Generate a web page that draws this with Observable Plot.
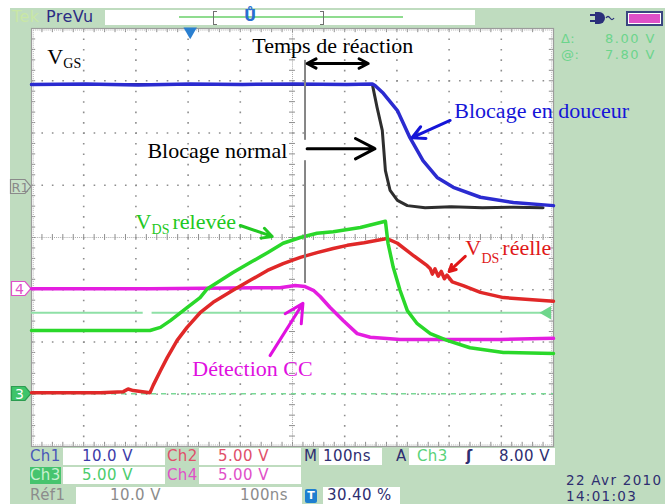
<!DOCTYPE html>
<html><head><meta charset="utf-8">
<script src="https://cdn.jsdelivr.net/npm/d3@7"></script>
<script src="https://cdn.jsdelivr.net/npm/@observablehq/plot@0.6"></script>
<style>
html,body{margin:0;padding:0;background:#fff;}
#scope{position:relative;width:665px;height:504px;overflow:hidden;background:#fff;font-family:"DejaVu Sans",sans-serif;}
.bg{position:absolute;left:10px;top:8px;right:0;bottom:0;background:#bfdcbf;}
.abs{position:absolute;}
.t{position:absolute;white-space:nowrap;font-size:15px;line-height:17px;letter-spacing:0.4px;}
.box{position:absolute;background:#fff;height:17px;}
#chart{position:absolute;left:0;top:0;}
</style></head><body>
<div id="scope">
<div class="bg"></div>
<!-- top bar -->
<div class="t" style="left:12px;top:8px;font-size:16px;color:#c9e7a6">Tek</div>
<div class="t" style="left:46px;top:8px;font-size:16px;color:#2c2c84">PreVu</div>
<div class="box" style="left:105px;top:10px;width:370px;height:15px"></div>
<div class="abs" style="left:179px;top:16px;width:224px;height:2px;background:#8fdc8f"></div>
<div class="abs" style="left:213px;top:11px;width:3px;height:12px;border:1.5px solid #707070;border-right:none"></div>
<div class="abs" style="left:320px;top:11px;width:3px;height:12px;border:1.5px solid #707070;border-left:none"></div>
<div class="t" style="left:244px;top:8px;font-size:15px;font-weight:bold;color:#2a6fd0">Ů</div>
<svg class="abs" style="left:589px;top:11px" width="30" height="14"><path d="M1 4h5M1 10h5" stroke="#2a2f7a" stroke-width="2"/><path d="M6 1h4a6 6 0 0 1 0 12h-4z" fill="#2a2f7a"/><path d="M17 7q2 -3 4 0t4 0" stroke="#2a2f7a" fill="none" stroke-width="1.3"/></svg>
<div class="abs" style="left:626px;top:11px;width:33px;height:11px;border:2px solid #3a4680;background:#e050c8;box-shadow:inset 0 0 0 1px #fff"></div>
<!-- right panel -->
<div class="t" style="left:561px;top:31px;font-size:13px;line-height:15px;color:#6cd48c">Δ:</div>
<div class="t" style="left:594px;top:31px;font-size:13px;line-height:15px;width:62px;text-align:right;color:#6cd48c;letter-spacing:1.5px">8.00 V</div>
<div class="t" style="left:561px;top:47px;font-size:13px;line-height:15px;color:#6cd48c">@:</div>
<div class="t" style="left:594px;top:47px;font-size:13px;line-height:15px;width:62px;text-align:right;color:#6cd48c;letter-spacing:1.5px">7.80 V</div>
<!-- left markers -->
<svg class="abs" style="left:9px;top:178px" width="24" height="17"><path d="M1.5 1.5H16L22 8.5L16 15.5H1.5Z" fill="#c8e2c8" stroke="#8a8a8a" stroke-width="1.2"/><text x="2.5" y="13.5" font-family="DejaVu Sans" font-size="13" fill="#8a8a8a">R1</text></svg>
<svg class="abs" style="left:10px;top:280px" width="23" height="17"><path d="M1.5 1.5H15L21 8.5L15 15.5H1.5Z" fill="#ffffff" stroke="#e050c8" stroke-width="1.2"/><text x="5" y="14" font-family="DejaVu Sans" font-size="14" fill="#e050c8">4</text></svg>
<svg class="abs" style="left:10px;top:385px" width="23" height="17"><path d="M1.5 1.5H15L21 8.5L15 15.5H1.5Z" fill="#3ec46a" stroke="#2c9c50" stroke-width="1.2"/><text x="5" y="14" font-family="DejaVu Sans" font-size="14" fill="#ffffff">3</text></svg>
<!-- bottom row 1 -->
<div class="t" style="left:30px;top:448px;color:#4a58b8">Ch1</div>
<div class="box" style="left:63px;top:448px;width:102px"></div>
<div class="t" style="left:82px;top:448px;color:#3c3ca8">10.0 V</div>
<div class="t" style="left:167px;top:448px;color:#e0506a">Ch2</div>
<div class="box" style="left:199px;top:448px;width:102px"></div>
<div class="t" style="left:218px;top:448px;color:#e0506a">5.00 V</div>
<div class="t" style="left:304px;top:448px;color:#2e2e70">M</div>
<div class="box" style="left:319px;top:448px;width:63px"></div>
<div class="t" style="left:323px;top:448px;color:#2e2e70">100ns</div>
<div class="t" style="left:396px;top:448px;color:#2e2e70">A</div>
<div class="box" style="left:409px;top:448px;width:146px"></div>
<div class="t" style="left:417px;top:448px;color:#5ad27a">Ch3</div>
<div class="t" style="left:466px;top:448px;color:#2e2e70;font-weight:bold">ʃ</div>
<div class="t" style="left:499px;top:448px;color:#2e2e70">8.00 V</div>
<!-- bottom row 2 -->
<div class="abs" style="left:30px;top:467px;width:31px;height:17px;background:#46c46e"></div>
<div class="t" style="left:30px;top:467px;color:#c8f0d0">Ch3</div>
<div class="box" style="left:63px;top:467px;width:102px"></div>
<div class="t" style="left:82px;top:467px;color:#4ccc6c">5.00 V</div>
<div class="t" style="left:167px;top:467px;color:#e050c8">Ch4</div>
<div class="box" style="left:199px;top:467px;width:102px"></div>
<div class="t" style="left:218px;top:467px;color:#e050c8">5.00 V</div>
<!-- bottom row 3 -->
<div class="t" style="left:30px;top:487px;color:#8c8c8c">Réf1</div>
<div class="box" style="left:76px;top:487px;width:226px"></div>
<div class="t" style="left:110px;top:487px;color:#8c8c8c">10.0 V</div>
<div class="t" style="left:240px;top:487px;color:#8c8c8c">100ns</div>
<div class="abs" style="left:305px;top:489px;width:12px;height:14px;background:#1e7fd0;border-radius:2px;color:#fff;font:bold 11px/14px 'DejaVu Sans';text-align:center">T</div>
<div class="box" style="left:323px;top:487px;width:77px"></div>
<div class="t" style="left:327px;top:487px;color:#2e2e70">30.40 %</div>
<div class="t" style="left:566px;top:473px;font-size:13.5px;line-height:15px;color:#2e2e70;letter-spacing:1.3px">22 Avr 2010</div>
<div class="t" style="left:566px;top:489px;font-size:13.5px;line-height:15px;color:#2e2e70;letter-spacing:1.3px">14:01:03</div>
<div id="chart"></div>
</div>
<script>
// ---------- data (time in ns from trigger, amplitude in screen divisions) ----------
const ch1T = [-304, -200, -100, 0, 100, 200, 300, 349, 354, 370, 397, 421, 446, 473, 504, 556, 619, 696];
const ch1V = [2.93, 2.94, 2.92, 2.94, 2.93, 2.94, 2.93, 2.94, 2.91, 2.76, 2.43, 1.91, 1.47, 1.15, 0.96, 0.77, 0.67, 0.61];

const ref1T = [-304, 0, 200, 349, 358, 368, 374, 383, 397, 416, 450, 500, 560, 620, 676];
const ref1V = [2.93, 2.93, 2.93, 2.93, 2.49, 2.05, 1.28, 0.90, 0.71, 0.61, 0.57, 0.59, 0.57, 0.58, 0.57];

const ch2T = [-304, -172, -128, -119, -109, -77, -71, -57, -44, -25, -6, 19, 44, 82, 115, 148, 178, 211, 243, 274, 301, 333, 377, 397, 427, 454, 460, 464, 469, 475, 481, 487, 492, 502, 523, 556, 600, 696];
const ch2V = [-2.97, -2.97, -2.95, -2.90, -2.93, -2.97, -2.83, -2.55, -2.30, -1.97, -1.72, -1.44, -1.24, -1.01, -0.82, -0.63, -0.50, -0.38, -0.29, -0.21, -0.15, -0.10, -0.02, -0.11, -0.34, -0.54, -0.60, -0.70, -0.60, -0.74, -0.65, -0.79, -0.72, -0.85, -0.92, -1.05, -1.15, -1.22];

const ch3T = [-304, -200, -77, -57, -38, -6, 19, 33, 52, 82, 115, 148, 178, 211, 243, 274, 326, 374, 379, 389, 402, 416, 435, 460, 492, 536, 600, 696];
const ch3V = [-1.78, -1.78, -1.78, -1.72, -1.59, -1.34, -1.15, -0.98, -0.86, -0.67, -0.48, -0.29, -0.11, 0.00, 0.08, 0.11, 0.19, 0.31, -0.11, -0.57, -1.01, -1.40, -1.65, -1.84, -1.97, -2.11, -2.20, -2.22];

const ch4T = [-304, -77, 172, 201, 220, 236, 249, 268, 293, 320, 345, 402, 500, 594, 696];
const ch4V = [-0.98, -0.98, -0.96, -0.92, -0.94, -1.01, -1.13, -1.34, -1.59, -1.84, -1.91, -1.95, -1.95, -1.95, -1.93];

const triggerLevel = -1.44;
const triggerGapFrom = [-304, -73];
const triggerGapTo = [-90, 690];
const triggerArrowT = 684;
const triggerPosT = 0;
const ch3Ground = -2.99;
const cursorT = 220;
const cursorFromV = [3.39, 1.47];
const cursorToV = [1.86, -0.88];

const labelText = ["V", "Temps de réaction", "Blocage normal", "Blocage en douceur", "V", "relevée", "V", "réelle", "Détection CC"];
const labelT = [-274, 119, -82, 506, -105, -34, 527, 598, 4];
const labelV = [3.33, 3.54, 1.53, 2.28, 0.17, 0.17, -0.34, -0.34, -2.66];
const labelKey = ["k", "k", "k", "b", "g", "g", "r", "r", "m"];

const subText = ["GS", "DS", "DS"];
const subT = [-243, -74, 558];
const subV = [3.25, 0.06, -0.48];
const subKey = ["k", "g", "r"];

const arrowFromT = [282, 282, 224, 498, 96, 527, 153];
const arrowFromV = [3.33, 3.33, 1.70, 2.24, 0.23, -0.36, -2.26];
const arrowToT = [224, 341, 354, 425, 157, 496, 216];
const arrowToV = [3.33, 3.33, 1.70, 1.91, 0.02, -0.65, -1.26];
const arrowKey = ["k", "k", "k", "b", "g", "r", "m"];

// ---------- styles ----------
const annColor = {k: "#000000", b: "#1515d8", g: "#22c822", r: "#e01818", m: "#e010e0"};
const traceColor = {ch1: "#2b2bd0", ref1: "#2e2e2e", ch2: "#e02828", ch3: "#2ad82a", ch4: "#e41ee0"};
const gridColor = "#8e8e8e";

// ---------- build ----------
const trace = (T, V) => T.map((t, i) => ({t, v: V[i]}));
const ch1 = trace(ch1T, ch1V), ref1 = trace(ref1T, ref1V), ch2 = trace(ch2T, ch2V), ch3 = trace(ch3T, ch3V), ch4 = trace(ch4T, ch4V);
const labels = labelText.map((text, i) => ({text, t: labelT[i], v: labelV[i], c: annColor[labelKey[i]]}));
const subs = subText.map((text, i) => ({text, t: subT[i], v: subV[i], c: annColor[subKey[i]]}));
const arrows = arrowFromT.map((t1, i) => ({t1, v1: arrowFromV[i], t2: arrowToT[i], v2: arrowToV[i], c: annColor[arrowKey[i]]}));
const trigSegs = triggerGapFrom.map((a, i) => ({a, b: triggerGapTo[i]}));
const cursorSegs = cursorFromV.map((a, i) => ({a, b: cursorToV[i]}));

const tMin = -304, tMax = 696, tMid = 196;
const majorT = d3.range(0, 11).map(i => tMin + 100 * i);
const majorV = d3.range(-4, 5);
const minorT = d3.range(0, 51).map(i => tMin + 20 * i);
const minorV = d3.range(0, 41).map(i => -4 + 0.2 * i);

const chart = Plot.plot({
  width: 665, height: 504,
  marginLeft: 31, marginRight: 112, marginTop: 28, marginBottom: 58,
  x: {domain: [tMin, tMax], axis: null},
  y: {domain: [-4, 4], axis: null},
  color: {type: "identity"},
  style: {background: "transparent", overflow: "visible"},
  marks: [
    Plot.frame({fill: "#ffffff", stroke: null}),
    Plot.ruleX(majorT.filter(t => t > tMin && t < tMax && t !== tMid), {stroke: gridColor, strokeWidth: 1.6, strokeDasharray: "1.6 8.85"}),
    Plot.ruleY(majorV.filter(v => Math.abs(v) < 4 && v !== 0), {stroke: gridColor, strokeWidth: 1.6, strokeDasharray: "1.6 8.84"}),
    Plot.ruleX([tMid], {stroke: "#a8a8a8", strokeDasharray: "1 1.09"}),
    Plot.ruleY([0], {stroke: "#a8a8a8", strokeDasharray: "1 1.09"}),
    Plot.ruleY(minorV, {x1: tMid - 5.7, x2: tMid + 5.7, stroke: gridColor}),
    Plot.ruleX(minorT, {y1: -0.057, y2: 0.057, stroke: gridColor}),
    Plot.ruleX(minorT, {y1: 4, y2: 3.92, stroke: gridColor}),
    Plot.ruleX(minorT, {y1: -4, y2: -3.92, stroke: gridColor}),
    Plot.ruleY(minorV, {x1: tMin, x2: tMin + 8, stroke: gridColor}),
    Plot.ruleY(minorV, {x1: tMax - 8, x2: tMax, stroke: gridColor}),
    Plot.ruleY([3.97, -3.97], {stroke: "#b4b4b4", strokeDasharray: "1 1.09"}),
    Plot.ruleX([tMin + 3.5, tMax - 3.5], {stroke: "#b4b4b4", strokeDasharray: "1 1.09"}),
    Plot.frame({stroke: "#9c9c9c", strokeWidth: 1.2}),
    // trigger level & ground
    Plot.ruleY(trigSegs, {y: triggerLevel, x1: "a", x2: "b", stroke: "#8ee0a6", strokeWidth: 2}),
    Plot.dot([triggerArrowT], {x: d => d, y: triggerLevel, symbol: "triangle", rotate: -90, r: 5, fill: "#6fd68c", stroke: null}),
    Plot.ruleY([ch3Ground], {stroke: "#7ad896", strokeDasharray: "5 5", strokeWidth: 1.5}),
    Plot.dot([triggerPosT], {x: d => d, y: 4, dy: 3, symbol: "triangle", rotate: 180, r: 5, fill: "#2a7fd0", stroke: null}),
    // traces
    Plot.line(ref1, {x: "t", y: "v", stroke: traceColor.ref1, strokeWidth: 3}),
    Plot.line(ch4, {x: "t", y: "v", stroke: traceColor.ch4, strokeWidth: 3.5}),
    Plot.line(ch2, {x: "t", y: "v", stroke: traceColor.ch2, strokeWidth: 3.5}),
    Plot.line(ch3, {x: "t", y: "v", stroke: traceColor.ch3, strokeWidth: 3.5}),
    Plot.line(ch1, {x: "t", y: "v", stroke: traceColor.ch1, strokeWidth: 3.5}),
    // cursor
    Plot.ruleX(cursorSegs, {x: cursorT, y1: "a", y2: "b", stroke: "#858585", strokeWidth: 2}),
    // annotations
    Plot.arrow(arrows, {x1: "t1", y1: "v1", x2: "t2", y2: "v2", stroke: "c", strokeWidth: 3, headLength: 11, headAngle: 55}),
    Plot.text(labels, {x: "t", y: "v", text: "text", fill: "c", fontSize: 22, fontFamily: "Liberation Serif, serif", textAnchor: "start", lineAnchor: "bottom"}),
    Plot.text(subs, {x: "t", y: "v", text: "text", fill: "c", fontSize: 14, fontFamily: "Liberation Serif, serif", textAnchor: "start", lineAnchor: "bottom"})
  ]
});
document.getElementById("chart").appendChild(chart);
</script>
</body></html>
